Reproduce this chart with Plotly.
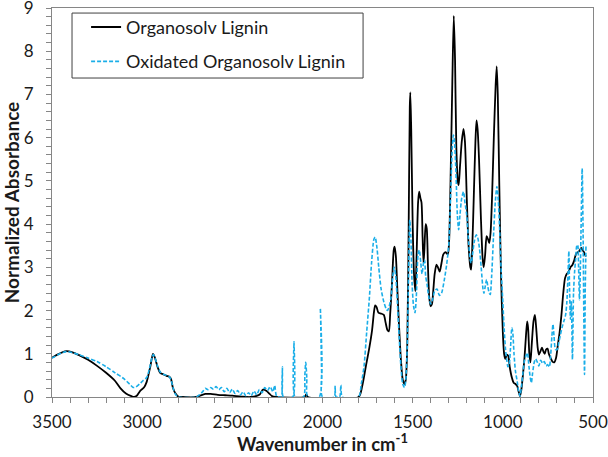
import plotly.graph_objects as go

# Organosolv Lignin (black, solid)
wn_ol = [3500, 3470, 3440, 3420, 3390, 3350, 3300, 3250, 3200, 3150, 3120, 3090, 3060, 3045, 3030, 3010, 2990,
         2975, 2955, 2940, 2930, 2915, 2900, 2880, 2865, 2850, 2840, 2830, 2815, 2800, 2780, 2700, 2680, 2650,
         2620, 2580, 2540, 2500, 2450, 2400, 2350, 2330, 2310, 2295, 2280, 2260, 2100, 2090, 2080, 1800, 1780,
         1760, 1740, 1725, 1715, 1708, 1700, 1690, 1675, 1660, 1650, 1640, 1632, 1625, 1615, 1605, 1600, 1593,
         1585, 1575, 1565, 1555, 1545, 1538, 1530, 1522, 1516, 1513, 1508, 1500, 1492, 1485, 1478, 1470, 1464,
         1457, 1451, 1445, 1440, 1435, 1428, 1422, 1415, 1408, 1400, 1393, 1385, 1378, 1368, 1360, 1350, 1340,
         1330, 1318, 1305, 1298, 1290, 1280, 1272, 1265, 1258, 1250, 1245, 1238, 1228, 1218, 1210, 1200, 1190,
         1180, 1176, 1170, 1160, 1152, 1146, 1140, 1132, 1122, 1112, 1106, 1098, 1090, 1082, 1075, 1068, 1060,
         1050, 1040, 1034, 1028, 1020, 1010, 1000, 993, 986, 978, 970, 962, 950, 940, 930, 920, 912, 905, 898,
         890, 880, 872, 865, 860, 853, 847, 840, 830, 822, 815, 807, 800, 792, 783, 775, 768, 760, 752, 745,
         735, 725, 715, 705, 695, 685, 675, 665, 655, 645, 635, 625, 615, 605, 595, 585, 575, 565, 558, 550, 540]
abs_ol = [0.91, 0.98, 1.04, 1.06, 1.04, 0.97, 0.86, 0.72, 0.56, 0.37, 0.2, 0.08, 0.02, 0.0, 0.03, 0.15, 0.22,
          0.35, 0.7, 1.0, 0.92, 0.7, 0.56, 0.52, 0.49, 0.47, 0.42, 0.22, 0.08, 0.01, 0.0, 0.0, 0.03, 0.07,
          0.07, 0.05, 0.04, 0.03, 0.01, 0.0, 0.05, 0.17, 0.14, 0.08, 0.02, 0.0, 0.0, 0.06, 0.0, 0.0, 0.25,
          0.7, 1.15, 1.55, 1.95, 2.12, 2.08, 1.95, 1.93, 1.9, 1.72, 1.55, 1.52, 1.9, 2.6, 3.4, 3.48, 3.25,
          2.5, 1.6, 0.85, 0.4, 0.3, 0.4, 1.2, 4.0, 6.7, 7.05, 6.2, 4.0, 2.8, 2.45, 3.3, 4.5, 4.75,
          4.6, 4.5, 3.7, 3.1, 3.4, 4.0, 3.9, 3.0, 2.3, 2.1, 2.15, 2.5, 2.85, 3.06, 3.0, 2.9, 3.1,
          3.3, 3.35, 3.3, 3.6, 5.0, 7.3, 8.82, 7.8, 5.8, 5.0, 4.9, 5.3, 5.9, 6.2, 5.9, 4.6, 3.5,
          3.0, 2.95, 3.4, 4.8, 5.9, 6.4, 6.2, 5.5, 4.2, 3.2, 3.0, 3.3, 3.72, 3.65, 3.56, 3.8, 4.6,
          6.0, 7.2, 7.65, 7.0, 5.0, 2.8, 1.5, 1.0, 0.88, 0.98, 0.95, 0.7, 0.45, 0.33, 0.3, 0.25, 0.12, 0.02, 0.15,
          0.45, 0.9, 1.4, 1.75, 1.6, 1.0, 0.8, 1.2, 1.75, 1.9, 1.6, 1.15, 0.98, 1.05, 1.14, 1.05, 1.0, 1.1, 1.12, 1.0,
          0.9, 0.82, 0.8, 0.9, 1.2, 1.5, 1.9, 2.4, 2.75, 2.85, 2.9, 3.0, 3.05, 3.15, 3.3, 3.35, 3.38, 3.45, 3.4, 3.35, 3.25]

# Oxidated Organosolv Lignin (blue, dashed)
wn_ox = [3500, 3470, 3440, 3420, 3390, 3350, 3300, 3250, 3200, 3150, 3100, 3070, 3050, 3035, 3015, 2995, 2975,
         2960, 2945, 2938, 2928, 2915, 2900, 2880, 2865, 2850, 2840, 2828, 2815, 2800, 2700, 2680, 2665, 2650,
         2635, 2620, 2605, 2590, 2575, 2560, 2545, 2530, 2515, 2500, 2485, 2470, 2455, 2440, 2425, 2410, 2395,
         2380, 2365, 2350, 2335, 2320, 2305, 2290, 2275, 2265, 2255, 2240, 2228, 2222, 2217, 2165, 2158, 2152,
         2105, 2098, 2093, 2087, 2082, 2018, 2012, 2005, 2000, 1935, 1930, 1925, 1905, 1898, 1890, 1800, 1785,
         1770, 1755, 1740, 1728, 1715, 1708, 1698, 1688, 1675, 1660, 1648, 1640, 1630, 1620, 1610, 1602, 1594,
         1585, 1575, 1565, 1555, 1545, 1538, 1530, 1522, 1516, 1510, 1503, 1495, 1487, 1480, 1470, 1463, 1455,
         1448, 1440, 1434, 1428, 1420, 1410, 1400, 1390, 1378, 1365, 1352, 1340, 1325, 1312, 1300, 1290, 1280,
         1274, 1268, 1260, 1252, 1245, 1238, 1228, 1218, 1210, 1200, 1190, 1180, 1175, 1168, 1158, 1148, 1140,
         1130, 1120, 1110, 1105, 1098, 1090, 1083, 1075, 1070, 1062, 1052, 1042, 1033, 1026, 1018, 1010, 1000,
         993, 985, 978, 972, 965, 958, 950, 945, 938, 930, 920, 912, 905, 898, 890, 880, 872, 864, 855, 848,
         842, 835, 826, 818, 808, 800, 790, 780, 770, 760, 752, 742, 735, 728, 722, 716, 708, 698, 690, 680,
         672, 662, 652, 645, 638, 634, 630, 625, 620, 614, 608, 602, 596, 590, 585, 580, 575, 570, 565, 560,
         555, 550, 547, 543, 539]
abs_ox = [0.9, 0.97, 1.03, 1.05, 1.03, 0.98, 0.9, 0.82, 0.7, 0.56, 0.42, 0.3, 0.22, 0.23, 0.3, 0.38, 0.45,
          0.65, 0.92, 0.98, 0.9, 0.72, 0.58, 0.52, 0.5, 0.47, 0.4, 0.2, 0.06, 0.0, 0.0, 0.06, 0.12, 0.2,
          0.17, 0.22, 0.18, 0.24, 0.17, 0.22, 0.12, 0.2, 0.1, 0.18, 0.08, 0.15, 0.05, 0.12, 0.03, 0.1, 0.03,
          0.14, 0.05, 0.17, 0.1, 0.22, 0.15, 0.24, 0.12, 0.27, 0.02, 0.0, 0.0, 0.7, 0.0, 0.0, 1.28, 0.0,
          0.0, 0.5, 0.8, 0.45, 0.0, 0.0, 2.06, 0.6, 0.0, 0.0, 0.25, 0.0, 0.0, 0.28, 0.0, 0.0, 0.3,
          0.7, 1.5, 2.3, 3.1, 3.65, 3.7, 3.45, 3.0, 2.5, 2.2, 2.05, 2.0, 2.1, 2.3, 2.8, 3.0, 2.8,
          2.2, 1.4, 0.7, 0.3, 0.22, 0.4, 1.2, 3.0, 4.1, 3.7, 2.6, 2.1, 1.95, 2.3, 3.3, 3.4, 3.1,
          2.85, 3.1, 3.17, 2.8, 2.6, 2.3, 2.15, 2.25, 2.45, 2.5, 2.35, 2.4, 2.7, 3.05, 3.5, 4.6, 5.8,
          6.06, 5.9, 5.2, 4.2, 3.87, 4.2, 4.6, 4.75, 4.5, 4.2, 3.6, 3.15, 3.1, 3.3, 3.6, 3.75, 3.7,
          3.45, 3.0, 2.5, 2.4, 2.55, 2.72, 2.55, 2.4, 2.37, 2.8, 3.7, 4.5, 4.87, 4.6, 3.9, 3.0, 2.2,
          1.6, 1.1, 0.85, 0.7, 0.75, 1.1, 1.6, 1.5, 1.0, 0.6, 0.35, 0.12, 0.02, 0.2, 0.5, 0.85, 0.95, 1.02, 0.7, 0.45,
          0.33, 0.55, 0.8, 0.88, 0.8, 0.72, 0.85, 0.78, 0.82, 0.72, 0.75, 0.7, 0.95, 1.4, 1.68, 1.4, 1.1, 1.1, 1.25, 1.45,
          1.6, 1.75, 1.9, 2.2, 2.9, 3.37, 2.5, 1.8, 2.2, 0.87, 2.4, 2.9, 3.2, 3.5, 3.52, 3.0, 2.25, 3.0, 4.2, 5.29,
          3.8, 1.5, 0.52, 2.5, 3.48]

series_names = ["Organosolv Lignin", "Oxidated Organosolv Lignin"]
x_ticks = [3500, 3000, 2500, 2000, 1500, 1000, 500]
y_ticks = [0, 1, 2, 3, 4, 5, 6, 7, 8, 9]
x_title = "<b>Wavenumber in cm<sup>-1</sup></b>"
y_title = "<b>Normalized Absorbance</b>"

FONT = "Lato"
TXT = "#1a1a1a"
fig = go.Figure()
fig.add_trace(go.Scatter(x=wn_ol, y=abs_ol, mode="lines", name=series_names[0], legendgroup="a",
                         line=dict(color="black", width=1.8, shape="spline", smoothing=0.7)))
fig.add_trace(go.Scatter(x=wn_ox, y=abs_ox, mode="lines", name=series_names[1], legendgroup="b",
                         line=dict(color="#1AAEE8", width=1.6, dash="4px,2px", shape="spline", smoothing=0.7)))

axis_common = dict(showline=True, linecolor="#868686", linewidth=1, mirror=True, showgrid=False,
                   zeroline=False, ticks="outside", ticklen=5, tickcolor="#868686", automargin=False,
                   ticklabeloverflow="allow",
                   tickfont=dict(family=FONT, size=17, color=TXT))
fig.update_xaxes(range=[3500, 500], tickvals=x_ticks, **axis_common, ticklabelstandoff=5,
                 minor=dict(dtick=100, ticks="outside", ticklen=5, tickcolor="#868686"))
fig.update_yaxes(range=[0, 9], tickvals=y_ticks, **axis_common, ticklabelstandoff=9,
                 minor=dict(dtick=0.2, ticks="outside", ticklen=5, tickcolor="#868686"),
                 title=dict(text=y_title, font=dict(family=FONT, size=19, color=TXT), standoff=0))

# x-axis title placed below the tick labels
fig.add_annotation(text=x_title, xref="paper", yref="paper", x=0.5, y=-0.1542, xanchor="center",
                   yanchor="bottom", showarrow=False, font=dict(family=FONT, size=18.5, color=TXT))

# legend frame (drawn as a box in plot-relative coordinates)
fig.add_shape(type="rect", xref="paper", yref="paper", x0=0.037, x1=0.575, y0=0.820, y1=0.987,
              line=dict(color="#404040", width=1), fillcolor="white", layer="below")

fig.update_layout(
    width=608, height=457, margin=dict(l=52, r=15, t=8, b=60),
    plot_bgcolor="white", paper_bgcolor="white", showlegend=True,
    legend=dict(x=0.063, y=0.998, xanchor="left", yanchor="top", borderwidth=0,
                bgcolor="rgba(0,0,0,0)", font=dict(family=FONT, size=18, color=TXT),
                traceorder="grouped", tracegroupgap=8, itemwidth=30),
)
fig.write_html("out.html", config={"displayModeBar": False},
               post_script="document.body.style.margin='0';document.body.style.padding='0';")
